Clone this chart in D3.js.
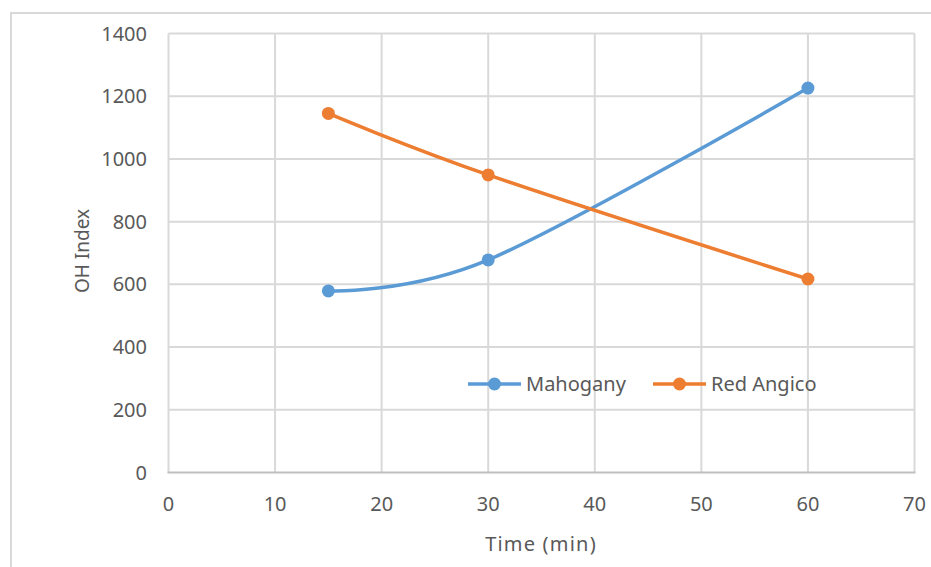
<!DOCTYPE html>
<html><head><meta charset="utf-8">
<script src="https://cdn.jsdelivr.net/npm/d3@7"></script>
<style>body{margin:0;background:#fff}svg{display:block}text{font-family:"Noto Sans","Open Sans",sans-serif;fill:#595959}</style>
</head><body>
<script>
const times = [15, 30, 60];
const mahogany = [579, 678, 1226];
const redAngico = [1145, 949, 617];
const seriesNames = ["Mahogany", "Red Angico"];
const seriesColors = ["#5b9bd5", "#ed7d31"];
const xTicks = [0, 10, 20, 30, 40, 50, 60, 70];
const yTicks = [0, 200, 400, 600, 800, 1000, 1200, 1400];

const W = 931, H = 567;
const svg = d3.select("body").append("svg").attr("width", W).attr("height", H);
svg.append("rect").attr("x", 11).attr("y", 13).attr("width", 940).attr("height", 600)
  .attr("fill", "#fff").attr("stroke", "#d9d9d9").attr("stroke-width", 2);

const L = 168.5, R = 914.5, T = 33.5, B = 472.5;
const x = d3.scaleLinear().domain([0, 70]).range([L, R]);
const y = d3.scaleLinear().domain([0, 1400]).range([B, T]);

const g = svg.append("g");
g.selectAll(".hg").data(yTicks.filter(d => d > 0)).join("line")
  .attr("x1", L).attr("x2", R).attr("y1", d => y(d)).attr("y2", d => y(d))
  .attr("stroke", "#d9d9d9").attr("stroke-width", 2);
g.selectAll(".vg").data(xTicks).join("line")
  .attr("x1", d => x(d)).attr("x2", d => x(d)).attr("y1", T).attr("y2", B)
  .attr("stroke", "#d9d9d9").attr("stroke-width", 2);
g.append("line").attr("x1", L - 1).attr("x2", R + 1).attr("y1", B).attr("y2", B)
  .attr("stroke", "#bfbfbf").attr("stroke-width", 2);

const fs = 20;
g.selectAll(".yl").data(yTicks).join("text")
  .attr("x", 147).attr("y", d => y(d)).attr("dy", "0.35em")
  .attr("text-anchor", "end").attr("font-size", fs).text(d => d);
g.selectAll(".xl").data(xTicks).join("text")
  .attr("x", d => x(d)).attr("y", 511)
  .attr("text-anchor", "middle").attr("font-size", fs).text(d => d);

svg.append("text").attr("transform", "translate(89,251) rotate(-90)")
  .attr("text-anchor", "middle").attr("font-size", 19).text("OH Index");
svg.append("text").attr("x", 541).attr("y", 551)
  .attr("text-anchor", "middle").attr("font-size", fs).attr("letter-spacing", 1.2).text("Time (min)");

const data = [mahogany, redAngico];
const line = d3.line().x(d => x(d[0])).y(d => y(d[1])).curve(d3.curveCardinal.tension(0));
data.forEach((vals, i) => {
  const pts = times.map((t, j) => [t, vals[j]]);
  svg.append("path").datum(pts).attr("d", line).attr("fill", "none")
    .attr("stroke", seriesColors[i]).attr("stroke-width", 3.5).attr("stroke-linecap", "round");
  svg.selectAll(".m" + i).data(pts).join("circle")
    .attr("cx", d => x(d[0])).attr("cy", d => y(d[1])).attr("r", 6.5)
    .attr("fill", seriesColors[i]);
});

// legend
const legX = [468, 653];
seriesNames.forEach((n, i) => {
  const lg = svg.append("g").attr("transform", `translate(${legX[i]},384)`);
  lg.append("line").attr("x1", 0).attr("x2", 53).attr("y1", 0).attr("y2", 0)
    .attr("stroke", seriesColors[i]).attr("stroke-width", 3.5);
  lg.append("circle").attr("cx", 26.5).attr("cy", 0).attr("r", 6.5).attr("fill", seriesColors[i]);
  lg.append("text").attr("x", 58).attr("y", 0).attr("dy", "0.35em").attr("font-size", fs).text(n);
});
</script>
</body></html>
